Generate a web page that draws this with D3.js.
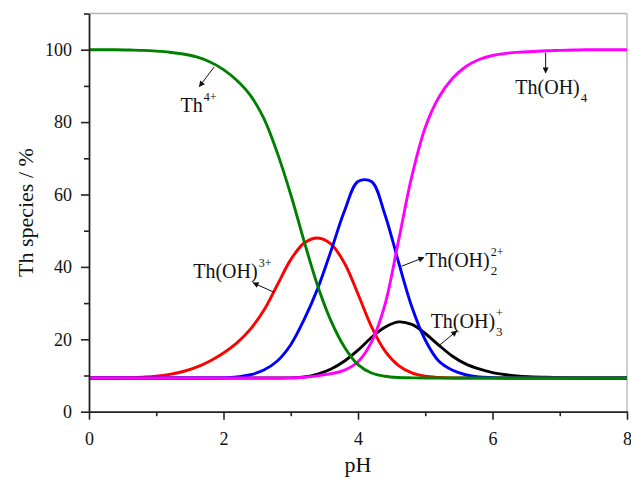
<!DOCTYPE html>
<html>
<head>
<meta charset="utf-8">
<script src="https://cdn.jsdelivr.net/npm/d3@7"></script>
<style>
  body { margin: 0; background: #fff; }
  text { font-family: "Liberation Serif", "Times New Roman", serif; fill: #111; }
</style>
</head>
<body>
<svg id="chart"></svg>
<script>
// size of the picture
var w = 631;
var h = 479;
var margin = {top: 13.5, right: 4, bottom: 67.3, left: 89};

// pH grid, step 0.2
var pH = d3.range(41).map(function(i) { return +(i * 0.2).toFixed(1); });

// species percentages, one value per pH point
var th4 = [100, 100, 100, 99.9, 99.8, 99.6, 99.3, 98.8, 98.0, 96.6,
           94.5, 91.5, 87.4, 81, 71.5, 60, 47, 34.8, 25, 17.8,
           13, 10.7, 9.8, 9.45, 9.35, 9.3, 9.3, 9.3, 9.3, 9.3,
           9.3, 9.3, 9.3, 9.3, 9.3, 9.3, 9.3, 9.3, 9.3, 9.3, 9.3];
var th1 = [9.3, 9.3, 9.3, 9.4, 9.55, 9.8, 10.3, 11.1, 12.3, 14,
           16.2, 19, 22.8, 28, 35, 42, 46.6, 48, 46.3, 41,
           32.5, 23.5, 16.8, 12.8, 10.7, 9.8, 9.45, 9.3, 9.3, 9.3,
           9.3, 9.3, 9.3, 9.3, 9.3, 9.3, 9.3, 9.3, 9.3, 9.3, 9.3];
var th2 = [9.3, 9.3, 9.3, 9.3, 9.3, 9.3, 9.3, 9.3, 9.3, 9.3,
           9.35, 9.6, 10.2, 11.5, 14, 18.5, 25.5, 34, 44.5, 55.5,
           63.6, 63.6, 54.5, 41.5, 29, 19.8, 14, 11.5, 10.2, 9.6,
           9.4, 9.3, 9.3, 9.3, 9.3, 9.3, 9.3, 9.3, 9.3, 9.3, 9.3];
var th3 = [9.3, 9.3, 9.3, 9.3, 9.3, 9.3, 9.3, 9.3, 9.3, 9.3,
           9.3, 9.3, 9.3, 9.3, 9.3, 9.35, 9.6, 10.4, 11.8, 14,
           17, 20.5, 23.3, 24.8, 24.1, 21.6, 18.4, 15.4, 13.2, 11.8,
           10.8, 10.2, 9.8, 9.6, 9.5, 9.4, 9.35, 9.3, 9.3, 9.3, 9.3];
var th4oh = [9.3, 9.3, 9.3, 9.3, 9.3, 9.3, 9.3, 9.3, 9.3, 9.3,
             9.3, 9.3, 9.3, 9.3, 9.3, 9.35, 9.5, 9.9, 10.5, 11.5,
             13.8, 19.2, 29.5, 47, 65, 78.5, 86.8, 92, 95.3, 97.3,
             98.4, 99, 99.3, 99.5, 99.7, 99.8, 99.9, 100, 100, 100, 100];

// drawing order, last on top
var seriesNames = ["black", "red", "blue", "magenta", "green"];
var seriesValues = [th3, th1, th2, th4oh, th4];

var xTicks = [0, 2, 4, 6, 8];
var xMinor = [1, 3, 5, 7];
var yTicks = [0, 20, 40, 60, 80, 100];
var yMinor = [10, 30, 50, 70, 90, 110];

// labels and arrows in data units (pH, %)
var labels = [
  {main: "Th", sup: "4+", sub: null, x: 1.36, y: 82.8, ax1: 1.86, ay1: 95.2, ax2: 1.64, ay2: 89.8},
  {main: "Th(OH)", sup: null, sub: "4", x: 6.34, y: 87.8, ax1: 6.79, ay1: 99.2, ax2: 6.79, ay2: 93.6},
  {main: "Th(OH)", sup: "3+", sub: null, x: 1.55, y: 36.8, ax1: 2.75, ay1: 33.0, ax2: 2.44, ay2: 35.6},
  {main: "Th(OH)", sup: "2+", sub: "2", x: 5.0, y: 39.9, ax1: 4.65, ay1: 40.2, ax2: 4.98, ay2: 42.6},
  {main: "Th(OH)", sup: "+", sub: "3", x: 5.08, y: 23.1, ax1: 5.2, ay1: 18.2, ax2: 5.47, ay2: 22.3}
];

var serif = "'Liberation Serif', 'Times New Roman', serif";

var svg = d3.select("#chart").attr("width", w).attr("height", h);
svg.append("rect").attr("width", w).attr("height", h).attr("fill", "#fff");

var x = d3.scaleLinear().domain([0, 8]).range([margin.left, w - margin.right]);
var y = d3.scaleLinear().domain([0, 110]).range([h - margin.bottom, margin.top]);

svg.append("defs").append("clipPath").attr("id", "plot")
  .append("rect")
  .attr("x", margin.left).attr("y", margin.top - 2)
  .attr("width", w - margin.left - margin.right + 1)
  .attr("height", h - margin.top - margin.bottom + 2);

svg.select("defs").append("marker")
  .attr("id", "head")
  .attr("viewBox", "0 0 10 10")
  .attr("refX", 9).attr("refY", 5)
  .attr("markerWidth", 9).attr("markerHeight", 6)
  .attr("markerUnits", "userSpaceOnUse")
  .attr("orient", "auto")
  .append("path").attr("d", "M0,0 L10,5 L0,10 Z").attr("fill", "#111");

// frame (top and right, grey)
svg.append("line")
  .attr("x1", margin.left).attr("x2", w - margin.right)
  .attr("y1", y(110)).attr("y2", y(110))
  .attr("stroke", "#b4b4b4").attr("stroke-width", 1.3);
svg.append("line")
  .attr("x1", x(8)).attr("x2", x(8))
  .attr("y1", y(110)).attr("y2", y(0))
  .attr("stroke", "#b4b4b4").attr("stroke-width", 1.3);

// curves
var colours = {black: "#000000", red: "#ff0000", blue: "#0000ff", magenta: "#ff00ff", green: "#008000"};
var line = d3.line()
  .x(function(d, i) { return x(pH[i]); })
  .y(function(d) { return y(d); })
  .curve(d3.curveCatmullRom.alpha(0.5));

svg.append("g").attr("clip-path", "url(#plot)")
  .selectAll("path")
  .data(seriesValues)
  .enter()
  .append("path")
  .attr("d", line)
  .attr("fill", "none")
  .attr("stroke", function(d, i) { return colours[seriesNames[i]]; })
  .attr("stroke-width", 2.9)
  .attr("stroke-linejoin", "round");

// axes
svg.append("g")
  .attr("transform", "translate(0," + y(0) + ")")
  .call(d3.axisBottom(x).tickValues(xTicks).tickSize(8).tickPadding(13).tickSizeOuter(0));
svg.append("g")
  .attr("transform", "translate(0," + y(0) + ")")
  .call(d3.axisBottom(x).tickValues(xMinor).tickSize(4.5).tickFormat(""))
  .select(".domain").remove();

svg.append("g")
  .attr("transform", "translate(" + x(0) + ",0)")
  .call(d3.axisLeft(y).tickValues(yTicks).tickSize(8).tickPadding(9).tickSizeOuter(0));
svg.append("g")
  .attr("transform", "translate(" + x(0) + ",0)")
  .call(d3.axisLeft(y).tickValues(yMinor).tickSize(5).tickFormat(""))
  .select(".domain").remove();

svg.selectAll(".domain").attr("stroke", "#222").attr("stroke-width", 1.8);
svg.selectAll(".tick line").attr("stroke", "#222").attr("stroke-width", 1.6);
svg.selectAll(".tick text")
  .style("font-family", serif)
  .style("font-size", "18px")
  .attr("fill", "#111");

// axis titles
svg.append("text")
  .attr("x", (x(0) + x(8)) / 2)
  .attr("y", 472)
  .attr("text-anchor", "middle")
  .style("font-family", serif)
  .style("font-size", "22px")
  .text("pH");

svg.append("text")
  .attr("transform", "translate(33," + ((y(0) + y(110)) / 2) + ") rotate(-90)")
  .attr("text-anchor", "middle")
  .style("font-family", serif)
  .style("font-size", "22px")
  .text("Th species / %");

// arrows
svg.append("g").selectAll("line")
  .data(labels)
  .enter()
  .append("line")
  .attr("x1", function(d) { return x(d.ax1); })
  .attr("y1", function(d) { return y(d.ay1); })
  .attr("x2", function(d) { return x(d.ax2); })
  .attr("y2", function(d) { return y(d.ay2); })
  .attr("stroke", "#111")
  .attr("stroke-width", 1)
  .attr("marker-end", "url(#head)");

// species labels
labels.forEach(function(d) {
  var t = svg.append("text")
    .attr("x", x(d.x)).attr("y", y(d.y))
    .style("font-family", serif)
    .style("font-size", "20px")
    .text(d.main);
  var end = x(d.x) + t.node().getComputedTextLength() + 1;
  if (d.sup) {
    svg.append("text")
      .attr("x", end).attr("y", y(d.y) - 11)
      .style("font-family", serif)
      .style("font-size", "12px")
      .text(d.sup);
  }
  if (d.sub) {
    svg.append("text")
      .attr("x", end).attr("y", y(d.y) + 8)
      .style("font-family", serif)
      .style("font-size", "13px")
      .text(d.sub);
  }
});
</script>
</body>
</html>
